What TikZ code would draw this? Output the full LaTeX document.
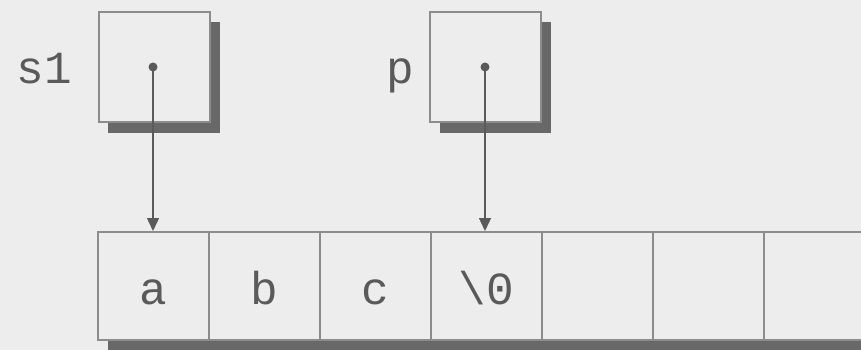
\documentclass[tikz,border=0pt]{standalone}
\usepackage{fontspec}
\setmonofont{Liberation Mono}
\usetikzlibrary{arrows.meta}
\definecolor{paper}{HTML}{EDEDED}
\definecolor{edge}{HTML}{8C8C8C}
\definecolor{shadowcol}{HTML}{686868}
\definecolor{ink}{HTML}{5A5A5A}
\tikzset{
  ptrbox/.style={draw=edge, line width=2pt, fill=paper, minimum width=111pt, minimum height=110pt, inner sep=0pt},
  cell/.style={draw=edge, line width=2pt, fill=paper, minimum width=111pt, minimum height=108pt, inner sep=0pt},
  lbl/.style={font=\ttfamily\fontsize{46}{46}\selectfont, text=ink, inner sep=0pt},
  ptr/.style={draw=ink, line width=1.4pt, -{Triangle[width=12pt,length=13pt]}},
  dotmark/.style={fill=ink},
  shadowbar/.style={fill=shadowcol},
}
\begin{document}
\begin{tikzpicture}[x=1pt,y=-1pt]
\useasboundingbox (0,0) rectangle (861,350);
\clip (0,0) rectangle (861,350);
\fill[paper] (0,0) rectangle (861,350);
% shadows
\path[shadowbar] (108,22) rectangle (220,133);
\path[shadowbar] (440,22) rectangle (551,133);
\path[shadowbar] (108,338) rectangle (880,352);
% pointer boxes
\node[ptrbox] (s1box) at (154,67) {};
\node[ptrbox] (pbox) at (485,67) {};
% array cells
\node[cell] (c1) at (153,286) {};
\node[cell] (c2) at (264,286) {};
\node[cell] (c3) at (375,286) {};
\node[cell] (c4) at (486,286) {};
\node[cell] (c5) at (597,286) {};
\node[cell] (c6) at (708,286) {};
\node[cell] (c7) at (819,286) {};
% cell texts
\node[lbl, anchor=base] (ta) at (153,304) {a};
\node[lbl, anchor=base] (tb) at (264,304) {b};
\node[lbl, anchor=base] (tc) at (375,304) {c};
\node[lbl, anchor=base] (td) at (486,304) {\textbackslash 0};
% names
\node[lbl, anchor=base east] (ns1) at (72,84) {s1};
\node[lbl, anchor=base east] (np) at (414,84) {p};
% dots and arrows
\coordinate (s1dot) at (153,67);
\coordinate (pdot) at (485,67);
\path[dotmark] (s1dot) circle (4.5pt);
\path[dotmark] (pdot) circle (4.5pt);
\draw[ptr] (s1dot) -- (s1dot |- c1.north);
\draw[ptr] (pdot) -- (pdot |- c4.north);
\end{tikzpicture}
\end{document}
